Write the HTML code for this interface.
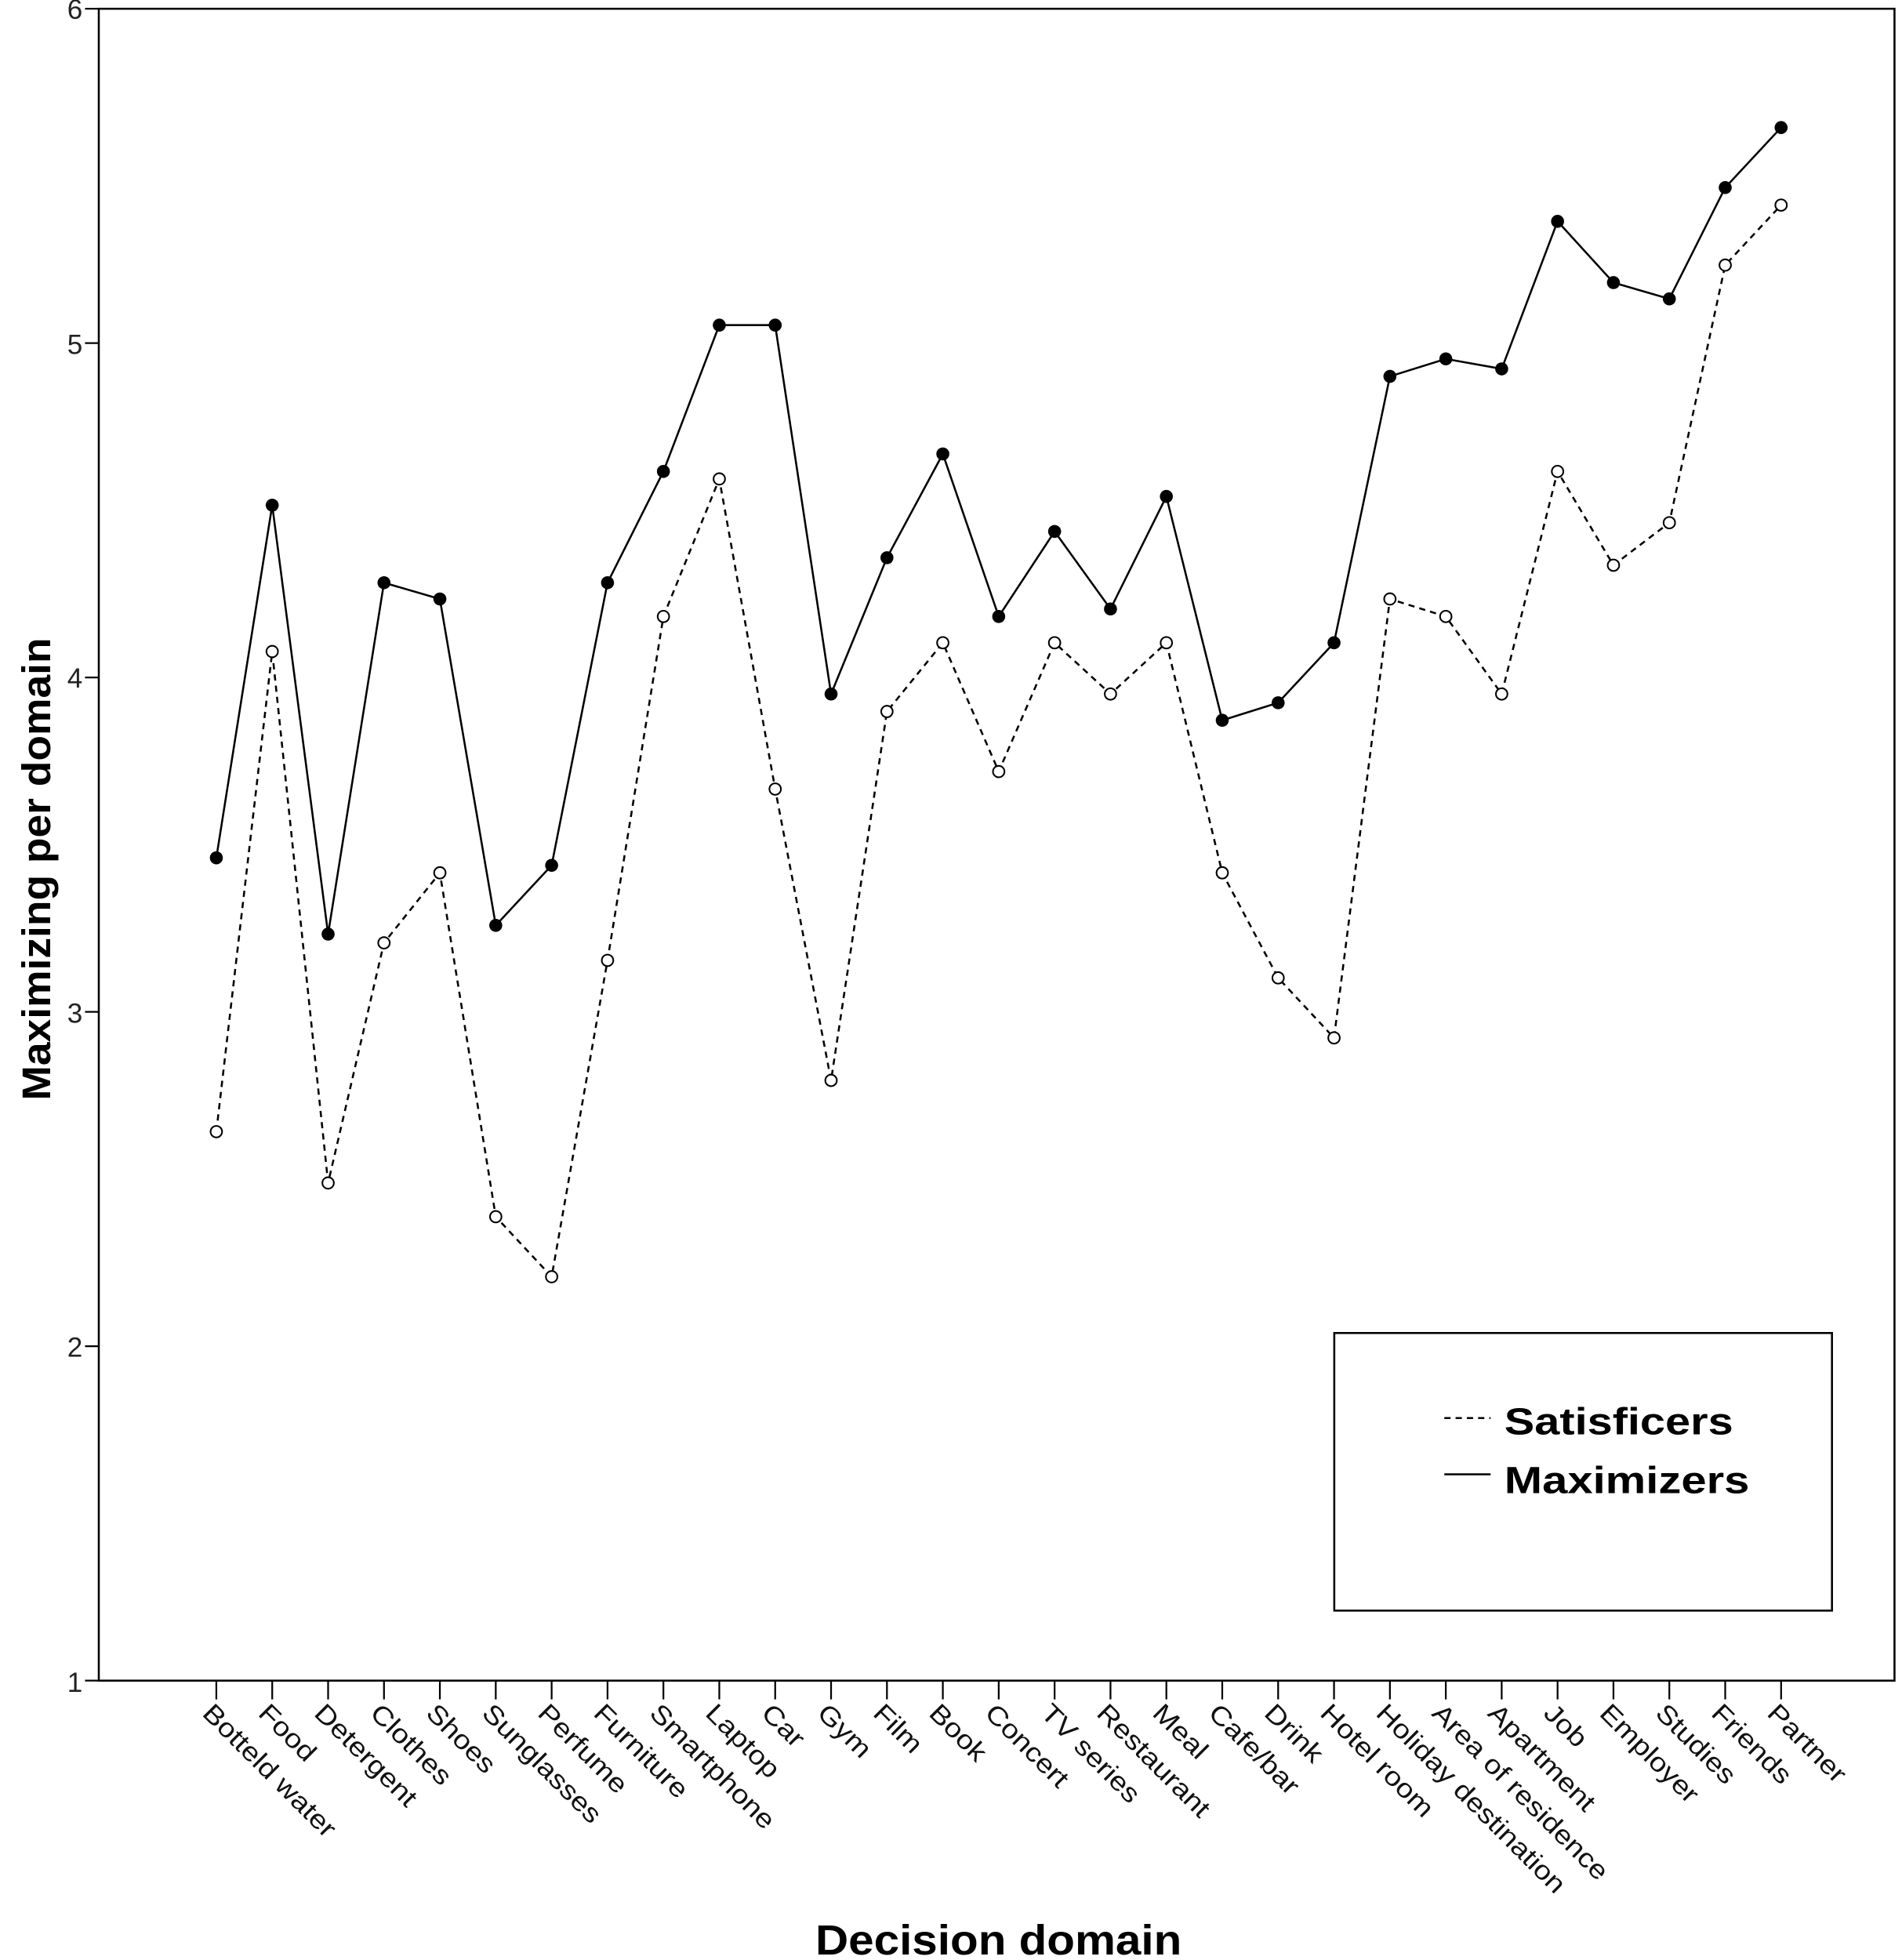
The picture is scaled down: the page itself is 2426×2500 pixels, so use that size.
<!DOCTYPE html>
<html><head><meta charset="utf-8"><style>html,body{margin:0;padding:0;background:#fff}svg{display:block}</style></head>
<body>
<svg xmlns="http://www.w3.org/2000/svg" width="2426" height="2500" viewBox="0 0 1521 1567.4" preserveAspectRatio="none" font-family="Liberation Sans, Arial, sans-serif">
<rect x="0" y="0" width="1521" height="1567.4" fill="#fff"/>
<rect x="79" y="7" width="1436" height="1337" fill="none" stroke="#000" stroke-width="1.6"/>
<g stroke="#000" stroke-width="1.4">
<line x1="68" y1="7" x2="79" y2="7"/>
<line x1="68" y1="274.4" x2="79" y2="274.4"/>
<line x1="68" y1="541.8" x2="79" y2="541.8"/>
<line x1="68" y1="809.2" x2="79" y2="809.2"/>
<line x1="68" y1="1076.6" x2="79" y2="1076.6"/>
<line x1="68" y1="1344" x2="79" y2="1344"/>
</g>
<g font-size="22" text-anchor="end" fill="#222">
<text x="66" y="15">6</text>
<text x="66" y="283">5</text>
<text x="66" y="550">4</text>
<text x="66" y="818">3</text>
<text x="66" y="1085">2</text>
<text x="66" y="1353">1</text>
</g>
<text transform="translate(40,695) rotate(-90)" font-size="32" font-weight="bold" text-anchor="middle" textLength="370" lengthAdjust="spacingAndGlyphs">Maximizing per domain</text>
<text x="652" y="1563" font-size="34" font-weight="bold" textLength="293" lengthAdjust="spacingAndGlyphs">Decision domain</text>
<g id="xt" stroke="#000" stroke-width="1.4"></g>
<g id="xl" font-size="21" fill="#111"></g>
<polyline id="sat" fill="none" stroke="#000" stroke-width="1.6" stroke-dasharray="5,4"/>
<polyline id="max" fill="none" stroke="#000" stroke-width="1.6"/>
<g id="mk"></g>
<rect x="1067" y="1066" width="398" height="222" fill="#fff" stroke="#000" stroke-width="1.6"/>
<line x1="1155" y1="1134" x2="1192" y2="1134" stroke="#000" stroke-width="1.6" stroke-dasharray="5,4"/>
<line x1="1155" y1="1179" x2="1192" y2="1179" stroke="#000" stroke-width="1.6"/>
<text x="1203" y="1147" font-size="30" font-weight="bold" textLength="183" lengthAdjust="spacingAndGlyphs">Satisficers</text>
<text x="1203" y="1194" font-size="30" font-weight="bold" textLength="196" lengthAdjust="spacingAndGlyphs">Maximizers</text>
<script>
var ns="http://www.w3.org/2000/svg";
var names=["Botteld water","Food","Detergent","Clothes","Shoes","Sunglasses","Perfume","Furniture","Smartphone","Laptop","Car","Gym","Film","Book","Concert","TV series","Restaurant","Meal","Cafe/bar","Drink","Hotel room","Holiday destination","Area of residence","Apartment","Job","Employer","Studies","Friends","Partner"];
var mx=[686,404,747,466,479,740,692,466,377,260,260,555,446,363,493,425,487,397,576,562,514,301,287,295,177,226,239,150,102];
var st=[905,521,946,754,698,973,1021,768,493,383,631,864,569,514,617,514,555,514,698,782,830,479,493,555,377,452,418,212,164];
var xt=document.getElementById("xt"),xl=document.getElementById("xl"),mk=document.getElementById("mk");
var ps=[],pm=[];
for(var i=0;i<29;i++){
 var x=173+i*44.69;
 var l=document.createElementNS(ns,"line");l.setAttribute("x1",x);l.setAttribute("x2",x);l.setAttribute("y1",1344);l.setAttribute("y2",1359);xt.appendChild(l);
 var t=document.createElementNS(ns,"text");t.setAttribute("x",0);t.setAttribute("y",0);t.setAttribute("dy","0.75em");
 t.setAttribute("transform","translate("+(x-1)+" 1360) rotate(45) scale(1.15 1)");t.textContent=names[i];xl.appendChild(t);
 ps.push(x+","+st[i]);pm.push(x+","+mx[i]);
 var c=document.createElementNS(ns,"circle");c.setAttribute("cx",x);c.setAttribute("cy",mx[i]);c.setAttribute("r",5.2);c.setAttribute("fill","#000");mk.appendChild(c);
 var d=document.createElementNS(ns,"circle");d.setAttribute("cx",x);d.setAttribute("cy",st[i]);d.setAttribute("r",4.6);d.setAttribute("fill","#fff");d.setAttribute("stroke","#000");d.setAttribute("stroke-width","1.3");mk.appendChild(d);
}
document.getElementById("sat").setAttribute("points",ps.join(" "));
document.getElementById("max").setAttribute("points",pm.join(" "));
</script>
</svg>
</body></html>
